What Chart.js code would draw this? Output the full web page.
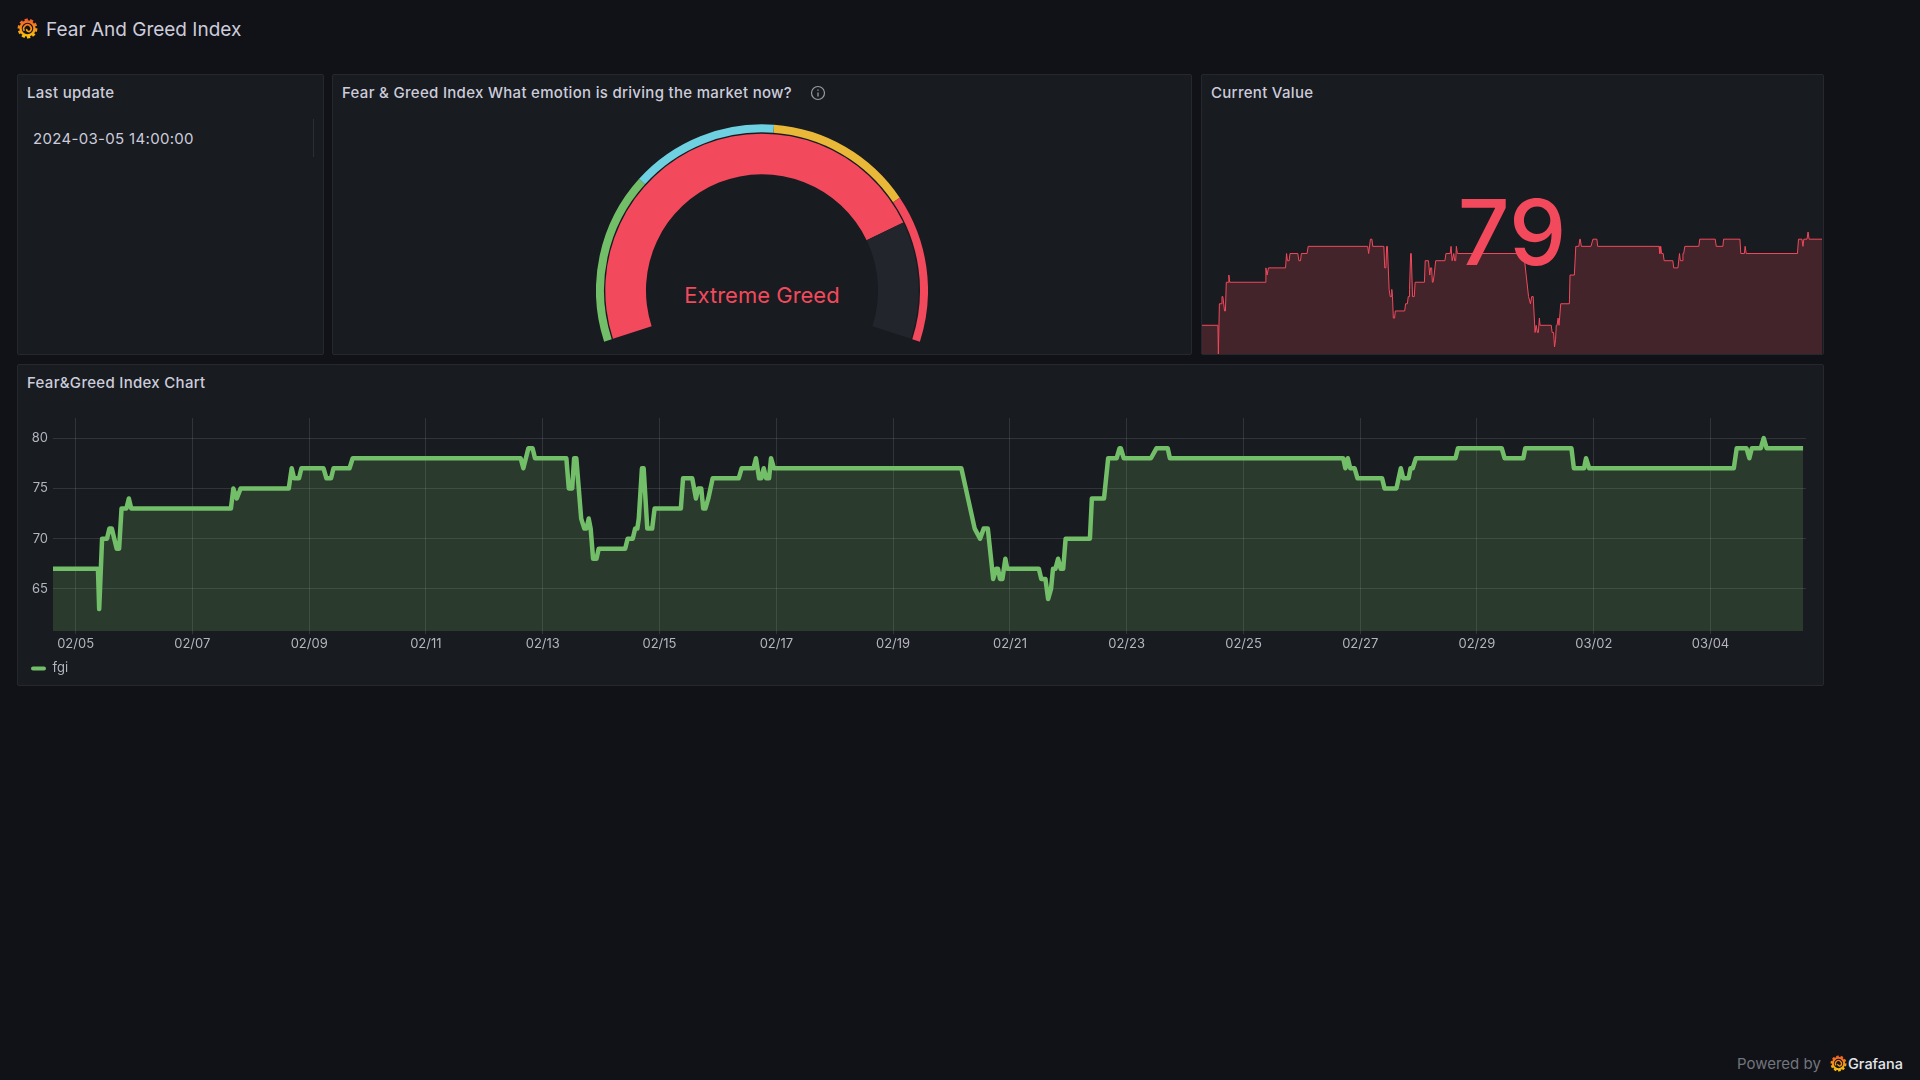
<!DOCTYPE html>
<html>
<head>
<meta charset="utf-8">
<title>Fear And Greed Index</title>
<script src="https://cdn.jsdelivr.net/npm/chart.js@4"></script>
<style>
  html, body { margin: 0; padding: 0; width: 1920px; height: 1080px; overflow: hidden; background: #111217; font-family: Inter, sans-serif; color: #ccccdc; }
  .panel { position: absolute; box-sizing: border-box; background: #181b1f; border: 1px solid #26282d; border-radius: 2px; }
  .panel-title { position: absolute; left: 9px; top: 8px; line-height: 20px; font-size: 15px; letter-spacing: 0.3px; font-weight: 500; white-space: nowrap; color: #ccccdc; }
  canvas { position: absolute; display: block; }
  #pageTitle { position: absolute; left: 46px; top: 18px; font-size: 19px; line-height: 24px; white-space: nowrap; }
  #lastUpdate { position: absolute; left: 15px; top: 54px; font-size: 15px; letter-spacing: 0.32px; line-height: 20px; white-space: nowrap; }
  #cellLine { position: absolute; left: 295px; top: 44px; width: 1px; height: 38px; background: #2c2e33; }
  #gaugeLabel { position: absolute; left: 0; width: 100%; top: 206px; text-align: center; font-size: 22px; line-height: 28px; color: #F2495C; }
  #bigValue { position: absolute; left: 1201px; width: 622px; top: 176px; text-align: center; font-size: 91px; font-weight: 500; line-height: 112px; color: #F2495C; }
  #poweredBy { position: absolute; left: 1737px; top: 1054px; font-size: 15px; line-height: 20px; color: #72757d; white-space: nowrap; }
  #grafanaWord { position: absolute; left: 1848px; top: 1054px; font-size: 14.5px; line-height: 20px; font-weight: 500; color: #e4e5ea; white-space: nowrap; }
</style>
</head>
<body>

<svg width="0" height="0" style="position:absolute">
  <defs>
    <linearGradient id="logoGrad" gradientUnits="userSpaceOnUse" x1="12" y1="1" x2="12" y2="23">
      <stop offset="0" stop-color="#f05a28"/>
      <stop offset="1" stop-color="#fbca0a"/>
    </linearGradient>
    <symbol id="logo" viewBox="0 0 24 24">
      <circle cx="12" cy="12" r="9.8" fill="none" stroke="url(#logoGrad)" stroke-width="3" stroke-dasharray="3.6 2.5"/>
      <circle cx="12" cy="12" r="8" fill="none" stroke="url(#logoGrad)" stroke-width="2.8"/>
      <path d="M8.4 14.6 A4.3 4.3 0 1 1 15.3 14.8 A2.6 2.6 0 0 1 11 12.4" fill="none" stroke="url(#logoGrad)" stroke-width="1.9"/>
    </symbol>
  </defs>
</svg>

<svg style="position:absolute;left:17px;top:18px" width="21" height="21"><use href="#logo"/></svg>
<div id="pageTitle">Fear And Greed Index</div>

<div class="panel" style="left:17px;top:74px;width:307px;height:281px">
  <div class="panel-title">Last update</div>
  <div id="lastUpdate"></div>
  <div id="cellLine"></div>
</div>

<div class="panel" style="left:332px;top:74px;width:860px;height:281px">
  <div class="panel-title">Fear &amp; Greed Index What emotion is driving the market now?</div>
  <svg style="position:absolute;left:477px;top:10px" width="16" height="16" viewBox="0 0 16 16">
    <circle cx="8" cy="8" r="6.5" fill="none" stroke="#9a9ca5" stroke-width="1.2"/>
    <path d="M8 7.4 V11.5 M8 4.4 V5.7" stroke="#9a9ca5" stroke-width="1.3"/>
  </svg>
  <div id="gaugeLabel"></div>
</div>

<div class="panel" style="left:1201px;top:74px;width:623px;height:281px">
  <div class="panel-title">Current Value</div>
</div>

<div class="panel" style="left:17px;top:364px;width:1807px;height:322px">
  <div class="panel-title">Fear&amp;Greed Index Chart</div>
</div>

<canvas id="gaugeChart" width="332" height="218" style="left:596px;top:124px"></canvas>
<canvas id="sparkChart" width="620" height="122" style="left:1202px;top:232px"></canvas>
<div id="bigValue"></div>
<canvas id="fgiChart" width="1806" height="322" style="left:17px;top:364px"></canvas>

<div id="poweredBy">Powered by</div>
<svg style="position:absolute;left:1830px;top:1055px" width="17" height="17"><use href="#logo"/></svg>
<div id="grafanaWord">Grafana</div>

<script>
// series: hours since the left edge of the range, and the index value
const fgiHours = [
  0, 18.5, 19, 20.2, 22.2, 23.2, 24.2, 26.2, 27.2, 28.2, 30.2, 31.2, 32.2,
  73.2, 74.2, 75.6, 77.2, 97, 98.2, 99.2, 101.2, 102.2, 111.3, 112.5, 114.4, 115.4,
  122, 123.3, 192.4, 193.5, 195.6, 197.3, 198.3, 211.2, 212.2, 213.6, 214.4, 215.3,
  217.3, 218.6, 219.5, 220.4, 221.2, 222.2, 223.6, 224.5, 235.4, 236.4, 238.5, 239.5,
  240.4, 241, 242.3, 243, 244.5, 246.5, 247.5, 258.3, 259.2, 263, 264.5, 265.5, 266.7,
  267.5, 268.4, 269.6, 271.4, 282.1, 283.3, 288.2, 289.2, 290.5, 291.4, 292.4, 293.4,
  294.6, 295.4, 296.6, 373.7, 379.2, 381.4, 382.9, 384.6, 386.8, 388, 388.8, 389.6,
  390.6, 391.8, 392.6, 405.6, 406.6, 408.3, 409.4, 410.6, 411.4, 412.4, 413.5, 414.6,
  415.6, 416.6, 426.6, 427.4, 432.4, 434.1, 437.6, 438.8, 439.3, 440.5, 451.7, 454,
  458.6, 459.5, 530.8, 531.7, 532.7, 533.7, 535.5, 536.7, 546.8, 547.8, 552.7, 554.5,
  555.5, 557.7, 558.5, 559.4, 560.7, 577, 578, 596, 597.2, 604.9, 605.7, 624.7, 625.7,
  629.9, 630.7, 632, 691.5, 692.7, 696.7, 697.9, 698.9, 702.6, 703.8, 705, 720
];
const fgiValues = [
  67, 67, 63, 70, 70, 71, 71, 69, 69, 73, 73, 74, 73,
  73, 75, 74, 75, 75, 77, 76, 76, 77, 77, 76, 76, 77,
  77, 78, 78, 77, 79, 79, 78, 78, 75, 75, 78, 78,
  72, 71, 71, 72, 71, 68, 68, 69, 69, 70, 70, 71,
  71, 72, 77, 77, 71, 71, 73, 73, 76, 76, 74, 75, 75,
  73, 73, 74, 76, 76, 77, 77, 78, 76, 76, 77, 76,
  76, 78, 77, 77, 71, 70, 71, 71, 66, 67, 67, 66,
  66, 68, 67, 67, 66, 66, 64, 65, 67, 67, 68, 67,
  67, 70, 70, 74, 74, 78, 78, 79, 79, 78, 78, 79,
  79, 78, 78, 77, 78, 77, 77, 76, 76, 75, 75, 77,
  76, 76, 77, 77, 78, 78, 79, 79, 78, 78, 79, 79, 77,
  77, 78, 77, 77, 79, 79, 78, 79, 79, 80, 79, 79
];

// x axis: one label every two days
const tickHours = [9.3, 57.3, 105.4, 153.4, 201.5, 249.5, 297.6, 345.6, 393.7, 441.7, 489.8, 537.8, 585.8, 633.9, 681.9];
const tickLabels = ['02/05', '02/07', '02/09', '02/11', '02/13', '02/15', '02/17', '02/19', '02/21', '02/23', '02/25', '02/27', '02/29', '03/02', '03/04'];
const yTicks = [65, 70, 75, 80];

// gauge: band widths and the value part, on a -4..100 scale
const gaugeBands = [29, 25, 25, 25];
const gaugeBandColors = ['#73BF69', '#6ED0E0', '#EAB839', '#F2495C'];
const gaugeParts = [83, 21];

const lastUpdateText = '2024-03-05 14:00:00';
const gaugeText = 'Extreme Greed';
const currentValue = 79;

document.getElementById('lastUpdate').textContent = lastUpdateText;
document.getElementById('gaugeLabel').textContent = gaugeText;
document.getElementById('bigValue').textContent = currentValue;

Chart.defaults.font.family = 'Inter, sans-serif';
Chart.defaults.animation = false;
Chart.defaults.responsive = false;

const fgiPoints = fgiHours.map((h, i) => ({ x: h, y: fgiValues[i] }));

// gauge
new Chart(document.getElementById('gaugeChart'), {
  type: 'doughnut',
  data: {
    datasets: [
      { data: gaugeBands, backgroundColor: gaugeBandColors, borderWidth: 0, weight: 8 },
      { data: [1], backgroundColor: 'rgba(0,0,0,0)', borderWidth: 0, weight: 1.3 },
      { data: gaugeParts, backgroundColor: ['#F2495C', '#22252b'], borderWidth: 0, weight: 40.7 }
    ]
  },
  options: {
    rotation: -108,
    circumference: 216,
    radius: 166,
    cutout: '69.9%',
    plugins: { legend: { display: false }, tooltip: { enabled: false } }
  }
});

// sparkline behind the big number
new Chart(document.getElementById('sparkChart'), {
  type: 'line',
  data: {
    datasets: [{
      data: fgiPoints,
      borderColor: '#F2495C',
      backgroundColor: 'rgba(242,73,92,0.2)',
      borderWidth: 1,
      pointRadius: 0,
      tension: 0,
      fill: 'start'
    }]
  },
  options: {
    scales: {
      x: { type: 'linear', display: false, min: 0, max: 720 },
      y: { display: false, min: 63, max: 80 }
    },
    plugins: { legend: { display: false }, tooltip: { enabled: false } }
  }
});

// main time series
new Chart(document.getElementById('fgiChart'), {
  type: 'line',
  data: {
    datasets: [{
      label: 'fgi',
      data: fgiPoints,
      borderColor: '#73BF69',
      backgroundColor: 'rgba(115,191,105,0.2)',
      borderWidth: 4.5,
      borderJoinStyle: 'round',
      pointRadius: 0,
      tension: 0,
      fill: 'start'
    }]
  },
  options: {
    layout: { padding: { top: 54, right: 17, left: 5, bottom: 1 } },
    scales: {
      x: {
        type: 'linear',
        min: 0,
        max: 721.2,
        afterBuildTicks: (scale) => { scale.ticks = tickHours.map(v => ({ value: v })); },
        afterFit: (scale) => { scale.height = 21.8; },
        grid: { color: 'rgba(204,204,220,0.14)', tickLength: 3, tickColor: 'rgba(204,204,220,0.14)' },
        border: { display: false },
        ticks: {
          autoSkip: false,
          maxRotation: 0,
          padding: 2,
          color: '#b4b5bf',
          font: { size: 13 },
          callback: (value, index) => tickLabels[index]
        }
      },
      y: {
        min: 60.8,
        max: 82,
        afterBuildTicks: (scale) => { scale.ticks = yTicks.map(v => ({ value: v })); },
        afterFit: (scale) => { scale.width = 31; },
        grid: { color: 'rgba(204,204,220,0.14)', drawTicks: false },
        border: { display: false },
        ticks: { padding: 5, color: '#b4b5bf', font: { size: 13 } }
      }
    },
    plugins: {
      tooltip: { enabled: false },
      legend: {
        position: 'bottom',
        align: 'start',
        labels: {
          boxWidth: 15,
          boxHeight: 4,
          padding: 9,
          useBorderRadius: true,
          borderRadius: 2,
          color: '#b4b5bf',
          font: { size: 13 },
          generateLabels: (chart) => [{
            text: chart.data.datasets[0].label,
            fontColor: '#b4b5bf',
            fillStyle: '#73BF69',
            strokeStyle: '#73BF69',
            lineWidth: 0,
            borderRadius: 2,
            datasetIndex: 0
          }]
        }
      }
    }
  }
});
</script>
</body>
</html>
